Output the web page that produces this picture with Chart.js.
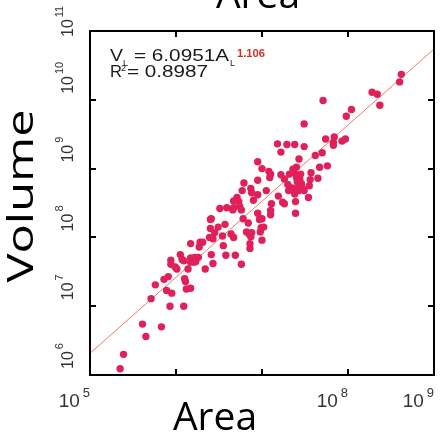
<!DOCTYPE html>
<html>
<head>
<meta charset="utf-8">
<script src="https://cdn.jsdelivr.net/npm/chart.js@4.4.1/dist/chart.umd.min.js"></script>
<style>
  body { margin: 0; background: #fff; }
  #myScatter { display: block; }
</style>
</head>
<body>
<canvas id="myScatter" width="443" height="440"></canvas>
<script>
// data, as log10 of the values
const logArea = [5.35,5.39,5.61,5.65,5.83,5.71,5.76,5.86,5.91,5.89,5.95,5.93,6.09,5.94,5.94,6.01,6.05,6.07,6.09,6.10,
  6.11,6.12,6.17,6.14,6.17,6.17,6.21,6.23,6.26,6.17,6.27,6.28,6.31,6.34,6.41,6.43,6.39,6.40,6.43,6.41,
  6.49,6.54,6.55,6.58,6.57,6.51,6.59,6.66,6.67,6.67,6.69,6.71,6.73,6.74,6.76,6.77,6.78,6.79,6.82,6.84,
  6.85,6.87,6.88,6.88,6.90,6.76,6.86,6.86,6.95,6.95,6.95,6.95,6.97,6.98,6.99,7.00,7.00,7.00,7.05,7.08,
  7.10,7.10,7.10,7.11,7.18,7.19,7.22,7.22,7.24,7.26,7.26,7.29,7.30,7.31,7.32,7.35,7.36,7.38,7.38,7.39,
  7.39,7.40,7.40,7.41,7.43,7.43,7.44,7.45,7.46,7.47,7.49,7.49,7.54,7.55,7.56,7.57,7.62,7.65,7.67,7.70,
  7.71,7.74,7.76,7.83,7.83,7.84,7.93,7.97,7.98,8.04,8.28,8.34,8.37,8.60,8.62,
  6.40,6.45,6.64,6.87,5.99,6.22,6.67,7.40,7.33,7.38,7.49,7.09,7.42,7.43,7.02];
const logVolume = [6.09,6.30,6.74,6.56,6.70,7.11,7.31,7.39,7.43,7.23,7.19,7.00,7.00,7.61,7.67,7.54,7.75,7.68,7.66,7.40,
  7.36,7.25,7.26,7.54,7.64,7.70,7.64,7.65,7.71,7.91,7.86,7.93,7.93,7.54,7.75,7.62,8.00,8.13,7.98,8.27,
  8.15,8.02,7.88,7.74,8.19,8.42,8.43,8.40,8.53,8.00,7.74,8.58,8.52,8.45,8.40,8.68,8.27,8.79,8.08,8.21,
  8.05,8.71,8.65,8.07,8.54,7.61,7.91,7.84,8.62,9.10,8.83,8.35,8.26,8.08,8.14,8.27,7.96,9.00,8.68,8.96,
  8.92,8.39,8.33,8.49,9.36,8.60,9.24,8.91,8.51,8.49,8.85,9.35,8.77,8.68,8.92,8.72,8.99,9.35,8.63,8.35,
  8.52,9.02,8.87,8.81,9.14,8.71,8.85,8.92,8.78,8.71,9.32,9.65,8.58,8.75,8.84,8.94,9.19,8.86,9.02,9.23,
  9.99,9.43,9.04,9.34,9.38,9.46,9.40,9.43,9.76,9.86,10.11,10.08,9.92,10.26,10.37,
  8.26,8.07,8.05,8.01,7.57,7.71,8.43,8.91,8.70,8.70,8.68,8.87,8.79,8.68,8.15];

// fitted power law  V = 6.0951 A^1.106, ends of the line
const fitArea = [1e5, 1e9];
const fitVolume = [2.065e6, 5.48e10];

const yTickPowers = [6, 7, 8, 9, 10, 11];
const xTickPowers = [5, 8, 9];

const points = logArea.map((a, i) => ({ x: Math.pow(10, a), y: Math.pow(10, logVolume[i]) }));
const fitLine = fitArea.map((a, i) => ({ x: a, y: fitVolume[i] }));

// draws text squeezed/stretched to a given width, returns the drawn width
function fitText(ctx, text, x, y, width) {
  const w = ctx.measureText(text).width;
  const sx = width ? width / w : 1;
  ctx.save();
  ctx.translate(x, y);
  ctx.scale(sx, 1);
  ctx.fillText(text, 0, 0);
  ctx.restore();
  return w * sx;
}

const framePlugin = {
  id: 'frame',
  afterDraw(chart) {
    const ctx = chart.ctx;
    const a = chart.chartArea;
    const xs = chart.scales.x, ys = chart.scales.y;

    ctx.save();
    // box and inward ticks
    ctx.strokeStyle = '#000';
    ctx.lineWidth = 2;
    ctx.strokeRect(a.left, a.top, a.right - a.left, a.bottom - a.top);
    ctx.beginPath();
    [6, 7, 8].forEach(p => {
      const px = Math.round(xs.getPixelForValue(Math.pow(10, p)));
      ctx.moveTo(px, a.bottom); ctx.lineTo(px, a.bottom - 6);
      ctx.moveTo(px, a.top); ctx.lineTo(px, a.top + 6);
    });
    [7, 8, 9, 10].forEach(p => {
      const py = Math.round(ys.getPixelForValue(Math.pow(10, p)));
      ctx.moveTo(a.left, py); ctx.lineTo(a.left + 6, py);
      ctx.moveTo(a.right, py); ctx.lineTo(a.right - 6, py);
    });
    ctx.stroke();

    // x tick labels
    ctx.fillStyle = '#333';
    ctx.textBaseline = 'alphabetic';
    xTickPowers.forEach(p => {
      const px = xs.getPixelForValue(Math.pow(10, p));
      ctx.font = '13px "Liberation Sans", Arial, sans-serif';
      ctx.textAlign = 'right';
      const ew = ctx.measureText(String(p)).width;
      ctx.fillText(String(p), px, 397);
      ctx.font = '19px "Liberation Sans", Arial, sans-serif';
      ctx.fillText('10', px - ew - 3, 407);
    });

    // y tick labels, rotated
    yTickPowers.forEach(p => {
      const py = ys.getPixelForValue(Math.pow(10, p));
      ctx.save();
      ctx.translate(73, p === 11 ? py + 6 : py - 6);
      ctx.rotate(-Math.PI / 2);
      ctx.textAlign = 'left';
      ctx.font = '16px "Liberation Sans", Arial, sans-serif';
      ctx.fillText('10', 0, 0);
      const bw = ctx.measureText('10').width;
      ctx.font = '11px "Liberation Sans", Arial, sans-serif';
      ctx.fillText(String(p), bw + 2, -10);
      ctx.restore();
    });

    // axis titles
    ctx.fillStyle = '#000';
    ctx.font = '39px "Open Sans", sans-serif';
    ctx.textAlign = 'center';
    ctx.fillText('Area', 258, 8);
    ctx.fillText('Area', 215, 430);
    ctx.save();
    ctx.translate(33, 196);
    ctx.rotate(-Math.PI / 2);
    ctx.font = '36px "Open Sans", sans-serif';
    ctx.textAlign = 'left';
    const vw = ctx.measureText('Volume').width;
    ctx.scale(173 / vw, 1);
    ctx.fillText('Volume', -vw / 2, 0);
    ctx.restore();

    // regression text
    ctx.textAlign = 'left';
    ctx.fillStyle = '#1a1a1a';
    ctx.font = '16px "Liberation Sans", Arial, sans-serif';
    fitText(ctx, 'V', 110, 61, 13);
    ctx.font = '9px "Liberation Sans", Arial, sans-serif';
    ctx.fillText('L', 123, 66);
    ctx.font = '16px "Liberation Sans", Arial, sans-serif';
    fitText(ctx, '= 6.0951A', 134, 61, 95);
    ctx.font = '9px "Liberation Sans", Arial, sans-serif';
    ctx.fillText('L', 230, 66);
    ctx.fillStyle = '#cc3322';
    ctx.font = 'bold 10px "Liberation Sans", Arial, sans-serif';
    fitText(ctx, '1.106', 237, 57, 28);
    ctx.fillStyle = '#1a1a1a';
    ctx.font = '16px "Liberation Sans", Arial, sans-serif';
    fitText(ctx, 'R', 110, 77, 12);
    ctx.font = '9px "Liberation Sans", Arial, sans-serif';
    ctx.fillText('2', 121, 71);
    ctx.font = '16px "Liberation Sans", Arial, sans-serif';
    fitText(ctx, '= 0.8987', 127, 77, 81);
    ctx.restore();
  }
};

const data = {
  datasets: [
    {
      type: 'line',
      data: fitLine,
      borderColor: '#f07a5e',
      borderWidth: 1,
      pointRadius: 0,
      fill: false,
      order: 2
    },
    {
      type: 'scatter',
      data: points,
      backgroundColor: '#e0205a',
      borderWidth: 0,
      pointRadius: 3.7,
      order: 1
    }
  ]
};

const config = {
  type: 'scatter',
  data,
  options: {
    responsive: false,
    animation: false,
    devicePixelRatio: 1,
    layout: { padding: { left: 90, top: 31, right: 9, bottom: 65 } },
    plugins: { legend: { display: false }, tooltip: { enabled: false } },
    scales: {
      x: { type: 'logarithmic', min: 1e5, max: 1e9, display: false },
      y: { type: 'logarithmic', min: 1e6, max: 1e11, display: false }
    }
  },
  plugins: [framePlugin]
};

const myScatter = new Chart(document.getElementById('myScatter'), config);
</script>
</body>
</html>
